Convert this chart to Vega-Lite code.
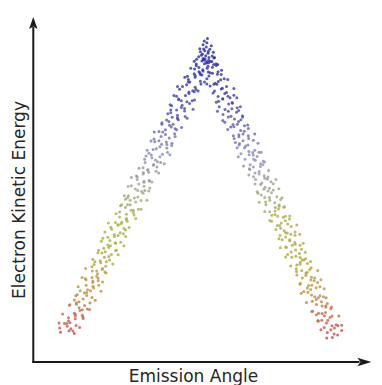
{
"$schema":"https://vega.github.io/schema/vega-lite/v6.json",
"width":382,"height":385,"padding":0,"autosize":"none","background":"white",
"config":{"view":{"stroke":null}},
"layer":[
{"data":{"values":[
{"a":-49.4,"e":15.1},{"a":-46.5,"e":15.5},{"a":-44.7,"e":14.7},{"a":-47.1,"e":16.8},{"a":-45.2,"e":15.4},{"a":-49.7,"e":16.3},{"a":-45.9,"e":16.1},{"a":-47.3,"e":17.6},{"a":-44.1,"e":17.0},{"a":-48.1,"e":17.6},{"a":-44.4,"e":18.9},{"a":-46.2,"e":17.8},{"a":-41.8,"e":19.4},{"a":-46.7,"e":18.3},{"a":-44.4,"e":19.7},{"a":-42.0,"e":19.9},{"a":-44.4,"e":20.2},{"a":-46.7,"e":19.2},{"a":-42.0,"e":21.5},{"a":-44.7,"e":20.5},{"a":-42.8,"e":21.3},{"a":-46.4,"e":22.8},{"a":-40.3,"e":21.7},{"a":-43.1,"e":22.1},{"a":-44.0,"e":23.5},{"a":-41.2,"e":22.7},{"a":-43.1,"e":23.8},{"a":-39.4,"e":23.4},{"a":-44.7,"e":24.3},{"a":-44.0,"e":23.1},{"a":-40.5,"e":25.6},{"a":-38.7,"e":25.0},{"a":-41.7,"e":24.6},{"a":-39.2,"e":26.9},{"a":-43.7,"e":25.8},{"a":-40.5,"e":26.4},{"a":-41.3,"e":26.3},{"a":-38.1,"e":27.7},{"a":-42.7,"e":26.9},{"a":-38.4,"e":28.2},{"a":-40.2,"e":27.2},{"a":-36.4,"e":28.5},{"a":-40.7,"e":28.5},{"a":-38.4,"e":29.3},{"a":-36.6,"e":29.8},{"a":-38.4,"e":29.7},{"a":-40.7,"e":30.1},{"a":-36.6,"e":30.5},{"a":-38.7,"e":30.7},{"a":-36.8,"e":31.8},{"a":-41.0,"e":30.4},{"a":-34.3,"e":32.3},{"a":-37.1,"e":31.1},{"a":-38.6,"e":32.6},{"a":-35.2,"e":33.0},{"a":-37.1,"e":32.6},{"a":-34.0,"e":33.9},{"a":-38.7,"e":33.8},{"a":-38.0,"e":34.4},{"a":-35.1,"e":33.3},{"a":-32.7,"e":35.7},{"a":-35.7,"e":34.9},{"a":-33.8,"e":35.2},{"a":-37.7,"e":35.2},{"a":-34.5,"e":36.5},{"a":-35.9,"e":35.5},{"a":-32.1,"e":37.3},{"a":-36.7,"e":37.8},{"a":-33.0,"e":36.7},{"a":-34.2,"e":38.1},{"a":-30.4,"e":38.5},{"a":-35.3,"e":37.7},{"a":-32.4,"e":39.8},{"a":-30.6,"e":38.4},{"a":-33.0,"e":39.3},{"a":-34.7,"e":39.1},{"a":-30.6,"e":40.6},{"a":-33.3,"e":40.0},{"a":-30.8,"e":40.6},{"a":-35.0,"e":41.9},{"a":-28.9,"e":40.8},{"a":-31.1,"e":42.4},{"a":-32.6,"e":41.3},{"a":-29.8,"e":42.7},{"a":-31.1,"e":42.9},{"a":-28.0,"e":43.2},{"a":-33.3,"e":42.2},{"a":-32.0,"e":44.5},{"a":-29.1,"e":43.5},{"a":-27.3,"e":44.3},{"a":-29.7,"e":45.8},{"a":-27.8,"e":44.7},{"a":-32.3,"e":45.1},{"a":-28.5,"e":46.5},{"a":-29.9,"e":45.7},{"a":-26.7,"e":46.8},{"a":-30.7,"e":46.4},{"a":-27.0,"e":47.3},{"a":-28.8,"e":46.1},{"a":-24.4,"e":48.6},{"a":-29.3,"e":48.0},{"a":-27.0,"e":47.6},{"a":-24.6,"e":49.9},{"a":-27.0,"e":48.8},{"a":-29.3,"e":49.4},{"a":-24.6,"e":49.3},{"a":-27.3,"e":50.7},{"a":-25.4,"e":49.9},{"a":-29.0,"e":51.2},{"a":-22.9,"e":50.2},{"a":-25.7,"e":51.5},{"a":-26.6,"e":51.5},{"a":-23.8,"e":52.3},{"a":-25.7,"e":52.8},{"a":-22.0,"e":52.7},{"a":-27.3,"e":53.1},{"a":-26.6,"e":53.5},{"a":-23.1,"e":53.7},{"a":-21.3,"e":54.8},{"a":-24.3,"e":53.4},{"a":-21.8,"e":55.3},{"a":-26.3,"e":54.1},{"a":-23.1,"e":55.6},{"a":-23.9,"e":56.0},{"a":-20.7,"e":55.6},{"a":-25.3,"e":56.9},{"a":-21.0,"e":56.8},{"a":-22.8,"e":57.4},{"a":-19.0,"e":56.3},{"a":-23.3,"e":58.7},{"a":-21.0,"e":57.9},{"a":-19.2,"e":58.2},{"a":-21.0,"e":58.2},{"a":-23.3,"e":59.5},{"a":-19.2,"e":58.5},{"a":-21.3,"e":60.3},{"a":-19.4,"e":60.8},{"a":-23.6,"e":59.7},{"a":-16.9,"e":61.1},{"a":-19.7,"e":61.5},{"a":-21.2,"e":60.7},{"a":-17.8,"e":62.8},{"a":-19.7,"e":61.4},{"a":-16.6,"e":62.3},{"a":-21.3,"e":62.1},{"a":-20.6,"e":63.6},{"a":-17.7,"e":63.0},{"a":-15.3,"e":63.6},{"a":-18.3,"e":64.9},{"a":-16.4,"e":63.8},{"a":-20.3,"e":65.4},{"a":-17.1,"e":64.3},{"a":-18.5,"e":65.7},{"a":-14.7,"e":65.9},{"a":-19.3,"e":66.2},{"a":-15.6,"e":65.2},{"a":-16.8,"e":67.5},{"a":-13.0,"e":66.5},{"a":-17.9,"e":67.3},{"a":-15.0,"e":68.8},{"a":-13.2,"e":67.7},{"a":-15.6,"e":68.1},{"a":-17.3,"e":69.5},{"a":-13.2,"e":68.7},{"a":-15.9,"e":69.8},{"a":-13.4,"e":69.4},{"a":-17.6,"e":70.3},{"a":-11.5,"e":69.1},{"a":-13.7,"e":71.6},{"a":-15.2,"e":71.0},{"a":-12.4,"e":70.6},{"a":-13.7,"e":72.9},{"a":-10.6,"e":71.8},{"a":-15.9,"e":72.4},{"a":-14.6,"e":72.3},{"a":-11.7,"e":73.7},{"a":-9.9,"e":72.9},{"a":-12.3,"e":74.2},{"a":-10.4,"e":73.2},{"a":-14.9,"e":74.5},{"a":-11.1,"e":74.5},{"a":-12.5,"e":75.3},{"a":-9.3,"e":75.8},{"a":-13.3,"e":75.7},{"a":-9.6,"e":76.1},{"a":-11.4,"e":76.5},{"a":-7.0,"e":76.7},{"a":-11.9,"e":77.8},{"a":-9.6,"e":76.4},{"a":-7.2,"e":78.3},{"a":-9.6,"e":77.1},{"a":-11.9,"e":78.6},{"a":-7.2,"e":79.0},{"a":-9.9,"e":78.6},{"a":-8.0,"e":79.9},{"a":-11.6,"e":79.8},{"a":-5.5,"e":80.4},{"a":-8.3,"e":79.3},{"a":-9.2,"e":81.7},{"a":-6.4,"e":80.9},{"a":-8.3,"e":81.2},{"a":-4.6,"e":81.2},{"a":-9.9,"e":82.5},{"a":-9.2,"e":81.5},{"a":-5.7,"e":83.3},{"a":-3.9,"e":83.8},{"a":-6.9,"e":82.7},{"a":-4.4,"e":84.1},{"a":-8.9,"e":84.5},{"a":-5.7,"e":83.7},{"a":-6.5,"e":85.8},{"a":-3.3,"e":84.4},{"a":-7.9,"e":85.3},{"a":-3.6,"e":85.1},{"a":-5.4,"e":86.6},{"a":-1.6,"e":86.0},{"a":-5.9,"e":86.6},{"a":-3.6,"e":87.9},{"a":-1.8,"e":86.8},{"a":-3.6,"e":88.4},{"a":-5.9,"e":87.3},{"a":-1.8,"e":88.7},{"a":-3.9,"e":88.9},{"a":-2.0,"e":89.2},{"a":-6.2,"e":88.2},{"a":0.5,"e":90.5},{"a":-2.3,"e":89.5},{"a":-3.8,"e":90.3},{"a":-0.4,"e":91.8},{"a":-2.3,"e":90.7},{"a":0.8,"e":91.1},{"a":-3.9,"e":92.5},{"a":-3.2,"e":91.7},{"a":-0.3,"e":92.8},{"a":2.1,"e":92.4},{"a":-0.9,"e":93.3},{"a":1.0,"e":92.1},
{"a":41.2,"e":13.4},{"a":44.9,"e":14.3},{"a":43.1,"e":13.6},{"a":46.3,"e":15.6},{"a":41.4,"e":15.0},{"a":43.7,"e":14.6},{"a":45.0,"e":16.9},{"a":42.6,"e":15.8},{"a":40.3,"e":16.4},{"a":43.8,"e":16.3},{"a":41.1,"e":17.7},{"a":43.0,"e":16.9},{"a":38.3,"e":18.2},{"a":44.4,"e":17.2},{"a":41.6,"e":18.5},{"a":39.5,"e":18.5},{"a":42.3,"e":19.3},{"a":40.4,"e":19.8},{"a":43.0,"e":19.7},{"a":37.7,"e":20.1},{"a":38.4,"e":20.5},{"a":40.8,"e":20.7},{"a":42.6,"e":21.8},{"a":39.6,"e":20.4},{"a":40.9,"e":22.3},{"a":36.4,"e":21.1},{"a":39.6,"e":22.6},{"a":37.7,"e":23.0},{"a":40.9,"e":22.6},{"a":36.3,"e":23.9},{"a":39.4,"e":23.8},{"a":37.6,"e":24.4},{"a":41.4,"e":23.3},{"a":36.0,"e":25.7},{"a":38.3,"e":24.9},{"a":40.1,"e":25.2},{"a":37.1,"e":25.2},{"a":34.8,"e":26.5},{"a":38.9,"e":25.5},{"a":35.7,"e":27.3},{"a":37.6,"e":27.8},{"a":33.4,"e":26.7},{"a":38.9,"e":28.1},{"a":36.1,"e":28.5},{"a":34.6,"e":27.7},{"a":36.9,"e":29.8},{"a":35.0,"e":28.4},{"a":38.1,"e":29.3},{"a":32.2,"e":29.1},{"a":32.9,"e":30.6},{"a":35.8,"e":30.0},{"a":37.1,"e":30.6},{"a":34.1,"e":31.9},{"a":36.0,"e":30.8},{"a":30.9,"e":32.4},{"a":34.1,"e":31.3},{"a":32.7,"e":32.7},{"a":35.4,"e":32.9},{"a":30.8,"e":33.2},{"a":34.5,"e":32.2},{"a":32.1,"e":34.5},{"a":35.9,"e":33.5},{"a":31.0,"e":34.3},{"a":32.8,"e":35.8},{"a":34.6,"e":34.7},{"a":32.2,"e":35.1},{"a":29.3,"e":36.5},{"a":33.4,"e":35.7},{"a":30.7,"e":36.8},{"a":32.1,"e":36.4},{"a":27.9,"e":37.3},{"a":34.0,"e":36.1},{"a":30.6,"e":38.6},{"a":29.1,"e":38.0},{"a":31.9,"e":37.6},{"a":29.5,"e":39.9},{"a":32.6,"e":38.8},{"a":27.3,"e":39.4},{"a":27.4,"e":39.3},{"a":30.3,"e":40.7},{"a":32.1,"e":39.9},{"a":28.6,"e":41.2},{"a":30.5,"e":40.2},{"a":26.0,"e":41.5},{"a":28.6,"e":41.5},{"a":27.2,"e":42.3},{"a":30.4,"e":42.8},{"a":25.3,"e":42.7},{"a":29.0,"e":43.1},{"a":27.2,"e":43.5},{"a":30.4,"e":43.7},{"a":25.5,"e":44.8},{"a":27.8,"e":43.4},{"a":29.1,"e":45.3},{"a":26.7,"e":44.1},{"a":24.4,"e":45.6},{"a":27.9,"e":46.0},{"a":25.2,"e":45.6},{"a":27.1,"e":46.9},{"a":22.4,"e":46.8},{"a":28.5,"e":47.4},{"a":25.7,"e":46.3},{"a":23.6,"e":48.7},{"a":26.4,"e":47.9},{"a":24.5,"e":48.2},{"a":27.1,"e":48.2},{"a":21.8,"e":49.5},{"a":22.5,"e":48.5},{"a":24.8,"e":50.3},{"a":26.6,"e":50.8},{"a":23.6,"e":49.7},{"a":25.0,"e":51.1},{"a":20.5,"e":51.5},{"a":23.7,"e":50.7},{"a":21.8,"e":52.8},{"a":25.0,"e":51.4},{"a":20.4,"e":52.3},{"a":23.5,"e":52.1},{"a":21.7,"e":53.6},{"a":25.5,"e":53.0},{"a":20.1,"e":53.6},{"a":22.4,"e":54.9},{"a":24.2,"e":53.8},{"a":21.2,"e":55.4},{"a":18.9,"e":54.3},{"a":23.0,"e":55.7},{"a":19.8,"e":55.9},{"a":21.7,"e":56.2},{"a":17.5,"e":55.2},{"a":23.0,"e":57.5},{"a":20.2,"e":56.5},{"a":18.7,"e":57.3},{"a":21.0,"e":58.8},{"a":19.1,"e":57.7},{"a":22.2,"e":58.1},{"a":16.3,"e":59.5},{"a":17.0,"e":58.7},{"a":19.9,"e":59.8},{"a":21.2,"e":59.4},{"a":18.2,"e":60.3},{"a":20.1,"e":59.1},{"a":15.0,"e":61.6},{"a":18.2,"e":61.0},{"a":16.8,"e":60.6},{"a":19.5,"e":62.9},{"a":14.9,"e":61.8},{"a":18.6,"e":62.4},{"a":16.2,"e":62.3},{"a":20.0,"e":63.7},{"a":15.1,"e":62.9},{"a":16.9,"e":64.2},{"a":18.7,"e":63.2},{"a":16.3,"e":64.5},{"a":13.4,"e":64.5},{"a":17.5,"e":65.3},{"a":14.8,"e":65.8},{"a":16.2,"e":65.7},{"a":12.0,"e":66.1},{"a":18.1,"e":66.5},{"a":14.7,"e":66.7},{"a":13.2,"e":67.8},{"a":16.0,"e":66.4},{"a":13.6,"e":68.3},{"a":16.7,"e":67.1},{"a":11.4,"e":68.6},{"a":11.5,"e":69.0},{"a":14.4,"e":68.6},{"a":16.2,"e":69.9},{"a":12.7,"e":69.8},{"a":14.6,"e":70.4},{"a":10.1,"e":69.3},{"a":12.7,"e":71.7},{"a":11.3,"e":70.9},{"a":14.5,"e":71.2},{"a":9.4,"e":71.2},{"a":13.1,"e":72.5},{"a":11.3,"e":71.5},{"a":14.5,"e":73.3},{"a":9.6,"e":73.8},{"a":11.9,"e":72.7},{"a":13.2,"e":74.1},{"a":10.8,"e":74.5},{"a":8.5,"e":73.7},{"a":12.0,"e":75.8},{"a":9.3,"e":74.4},{"a":11.2,"e":75.3},{"a":6.5,"e":75.1},{"a":12.6,"e":76.6},{"a":9.8,"e":76.0},{"a":7.7,"e":76.6},{"a":10.5,"e":77.9},{"a":8.6,"e":76.8},{"a":11.2,"e":78.4},{"a":5.9,"e":77.3},{"a":6.6,"e":78.7},{"a":8.9,"e":78.9},{"a":10.7,"e":79.2},{"a":7.7,"e":78.2},{"a":9.1,"e":80.5},{"a":4.6,"e":79.5},{"a":7.8,"e":80.3},{"a":5.8,"e":81.8},{"a":9.0,"e":80.7},{"a":4.4,"e":81.1},{"a":7.6,"e":82.5},{"a":5.8,"e":81.7},{"a":9.6,"e":82.8},{"a":4.2,"e":82.4},{"a":6.5,"e":83.3},{"a":8.3,"e":82.1},{"a":5.3,"e":84.6},{"a":3.0,"e":84.0},{"a":7.1,"e":83.6},{"a":3.8,"e":85.9},{"a":5.7,"e":84.8},{"a":1.5,"e":85.4},{"a":7.1,"e":85.3},{"a":4.3,"e":86.7},{"a":2.8,"e":85.9},{"a":5.1,"e":87.2},{"a":3.2,"e":86.2},{"a":6.3,"e":87.5},{"a":0.4,"e":87.5},{"a":1.1,"e":88.3},{"a":4.0,"e":88.8},{"a":5.3,"e":88.7},{"a":2.3,"e":89.1},{"a":4.2,"e":89.5},{"a":-0.9,"e":89.7},{"a":2.3,"e":90.8},{"a":0.9,"e":89.4},{"a":3.6,"e":91.3},{"a":-1.0,"e":90.1},{"a":2.7,"e":91.6},{"a":0.3,"e":92.0},{"a":4.1,"e":91.6},{"a":-0.8,"e":92.9},{"a":1.0,"e":92.8},{"a":2.8,"e":93.4},{"a":0.4,"e":92.3},
{"a":-1.5,"e":94.2},{"a":0.8,"e":94.8},{"a":2.2,"e":94.0},{"a":-0.3,"e":95.5},{"a":1.4,"e":95.9},{"a":-2.4,"e":93.8},{"a":0.2,"e":96.6},{"a":-0.9,"e":97.2},{"a":1.9,"e":96.9},{"a":-0.5,"e":98.3},{"a":0.6,"e":99.0},{"a":-1.8,"e":95.2},{"a":3.0,"e":93.6},{"a":-3.1,"e":93.1},{"a":0.0,"e":94.1},{"a":1.1,"e":93.6},{"a":-1.1,"e":94.6},{"a":2.6,"e":95.1},{"a":-2.0,"e":96.1},{"a":0.4,"e":97.8},{"a":-1.3,"e":92.6},{"a":1.6,"e":92.4},{"a":-0.2,"e":93.2},{"a":0.9,"e":95.3},{"a":-0.7,"e":96.0},
{"a":-42.9,"e":16.4},{"a":-49.9,"e":17.7},{"a":-41.7,"e":19.0},{"a":-48.7,"e":20.3},{"a":-39.5,"e":21.6},{"a":-46.2,"e":22.9},{"a":-37.6,"e":24.2},{"a":-44.2,"e":25.5},{"a":-35.6,"e":26.8},{"a":-43.4,"e":28.1},{"a":-35.1,"e":29.4},{"a":-42.1,"e":30.7},{"a":-33.9,"e":32.0},{"a":-40.9,"e":33.3},{"a":-31.6,"e":34.6},{"a":-38.4,"e":35.9},{"a":-29.8,"e":37.2},{"a":-36.4,"e":38.5},{"a":-27.8,"e":39.8},{"a":-35.5,"e":41.1},{"a":-27.2,"e":42.4},{"a":-34.3,"e":43.7},{"a":-26.1,"e":45.0},{"a":-33.1,"e":46.3},{"a":-23.8,"e":47.6},{"a":-30.5,"e":48.9},{"a":-22.0,"e":50.2},{"a":-28.6,"e":51.5},{"a":-20.0,"e":52.8},{"a":-27.7,"e":54.1},{"a":-19.4,"e":55.4},{"a":-26.4,"e":56.7},{"a":-18.3,"e":58.0},{"a":-25.3,"e":59.3},{"a":-16.0,"e":60.6},{"a":-22.7,"e":61.9},{"a":-14.1,"e":63.2},{"a":-20.8,"e":64.5},{"a":-12.2,"e":65.8},{"a":-19.9,"e":67.1},{"a":-11.6,"e":68.4},{"a":-18.6,"e":69.7},{"a":-10.4,"e":71.0},{"a":-17.5,"e":72.3},{"a":-8.2,"e":73.6},{"a":-14.9,"e":74.9},{"a":-6.3,"e":76.2},{"a":-12.9,"e":77.5},{"a":-4.3,"e":78.8},{"a":-12.1,"e":80.1},{"a":-3.8,"e":81.4},{"a":-10.8,"e":82.7},{"a":-2.6,"e":84.0},{"a":-9.6,"e":85.3},{"a":-0.4,"e":86.6},{"a":-7.1,"e":87.9},{"a":1.5,"e":89.2},{"a":-5.1,"e":90.5},{"a":3.5,"e":91.8},
{"a":39.2,"e":15.8},{"a":46.3,"e":17.1},{"a":38.2,"e":18.4},{"a":45.3,"e":19.7},{"a":36.1,"e":21.0},{"a":42.8,"e":22.3},{"a":34.3,"e":23.6},{"a":41.0,"e":24.9},{"a":32.5,"e":26.2},{"a":40.3,"e":27.5},{"a":32.1,"e":28.8},{"a":39.2,"e":30.1},{"a":31.0,"e":31.4},{"a":38.1,"e":32.7},{"a":28.9,"e":34.0},{"a":35.7,"e":35.3},{"a":27.2,"e":36.6},{"a":33.9,"e":37.9},{"a":25.4,"e":39.2},{"a":33.2,"e":40.5},{"a":24.9,"e":41.8},{"a":32.0,"e":43.1},{"a":23.9,"e":44.4},{"a":31.0,"e":45.7},{"a":21.8,"e":47.0},{"a":28.6,"e":48.3},{"a":20.1,"e":49.6},{"a":26.8,"e":50.9},{"a":18.2,"e":52.2},{"a":26.0,"e":53.5},{"a":17.8,"e":54.8},{"a":24.9,"e":56.1},{"a":16.8,"e":57.4},{"a":23.9,"e":58.7},{"a":14.7,"e":60.0},{"a":21.4,"e":61.3},{"a":12.9,"e":62.6},{"a":19.6,"e":63.9},{"a":11.1,"e":65.2},{"a":18.9,"e":66.5},{"a":10.7,"e":67.8},{"a":17.8,"e":69.1},{"a":9.7,"e":70.4},{"a":16.7,"e":71.7},{"a":7.5,"e":73.0},{"a":14.3,"e":74.3},{"a":5.8,"e":75.6},{"a":12.5,"e":76.9},{"a":4.0,"e":78.2},{"a":11.8,"e":79.5},{"a":3.6,"e":80.8},{"a":10.6,"e":82.1},{"a":2.5,"e":83.4},{"a":9.6,"e":84.7},{"a":0.4,"e":86.0},{"a":7.5,"e":87.3},{"a":-1.3,"e":88.6},{"a":5.4,"e":89.9},{"a":-3.2,"e":91.2}
]},
"mark":{"type":"circle","size":9,"opacity":0.8},
"encoding":{
"x":{"field":"a","type":"quantitative","scale":{"domain":[-68.33,59]},"axis":null},
"y":{"field":"e","type":"quantitative","scale":{"domain":[0,110]},"axis":null},
"color":{"field":"e","type":"quantitative","legend":null,"scale":{"type":"linear","interpolate":"rgb","domain":[14,20,27,36,48,57,66,75,85,95],"range":["#c84858","#c86848","#c09040","#b0a838","#a8b048","#a0a090","#8a8ab8","#5555b8","#3535b0","#2a2aa8"]}}
}},
{"data":{"values":[{"a":-58.67,"e":6.57,"a2":-58.67,"e2":102},{"a":-58.67,"e":6.57,"a2":52,"e2":6.57}]},
"mark":{"type":"rule","strokeWidth":2,"color":"#1a1a1a","strokeCap":"square"},
"encoding":{"x":{"field":"a","type":"quantitative"},"y":{"field":"e","type":"quantitative"},"x2":{"field":"a2"},"y2":{"field":"e2"}}},
{"data":{"values":[{"a":-58.67,"e":103.4}]},
"mark":{"type":"point","filled":true,"opacity":1,"color":"#1a1a1a","size":144,"shape":"M0,-1L0.7,1L0,0.55L-0.7,1Z"},
"encoding":{"x":{"field":"a","type":"quantitative"},"y":{"field":"e","type":"quantitative"}}},
{"data":{"values":[{"a":54,"e":6.57}]},
"mark":{"type":"point","filled":true,"opacity":1,"color":"#1a1a1a","size":196,"shape":"M1,0L-1,-0.6L-0.55,0L-1,0.6Z"},
"encoding":{"x":{"field":"a","type":"quantitative"},"y":{"field":"e","type":"quantitative"}}},
{"data":{"values":[{"a":-4.17,"e":0.9,"t":"Emission Angle"}]},
"mark":{"type":"text","font":"DejaVu Sans","fontSize":17,"align":"center","baseline":"alphabetic","color":"#262626"},
"encoding":{"x":{"field":"a","type":"quantitative"},"y":{"field":"e","type":"quantitative"},"text":{"field":"t"}}},
{"data":{"values":[{"a":-61.33,"e":52.86,"t":"Electron Kinetic Energy"}]},
"mark":{"type":"text","font":"DejaVu Sans","fontSize":17,"align":"center","baseline":"alphabetic","angle":270,"color":"#262626"},
"encoding":{"x":{"field":"a","type":"quantitative"},"y":{"field":"e","type":"quantitative"},"text":{"field":"t"}}}
]
}
